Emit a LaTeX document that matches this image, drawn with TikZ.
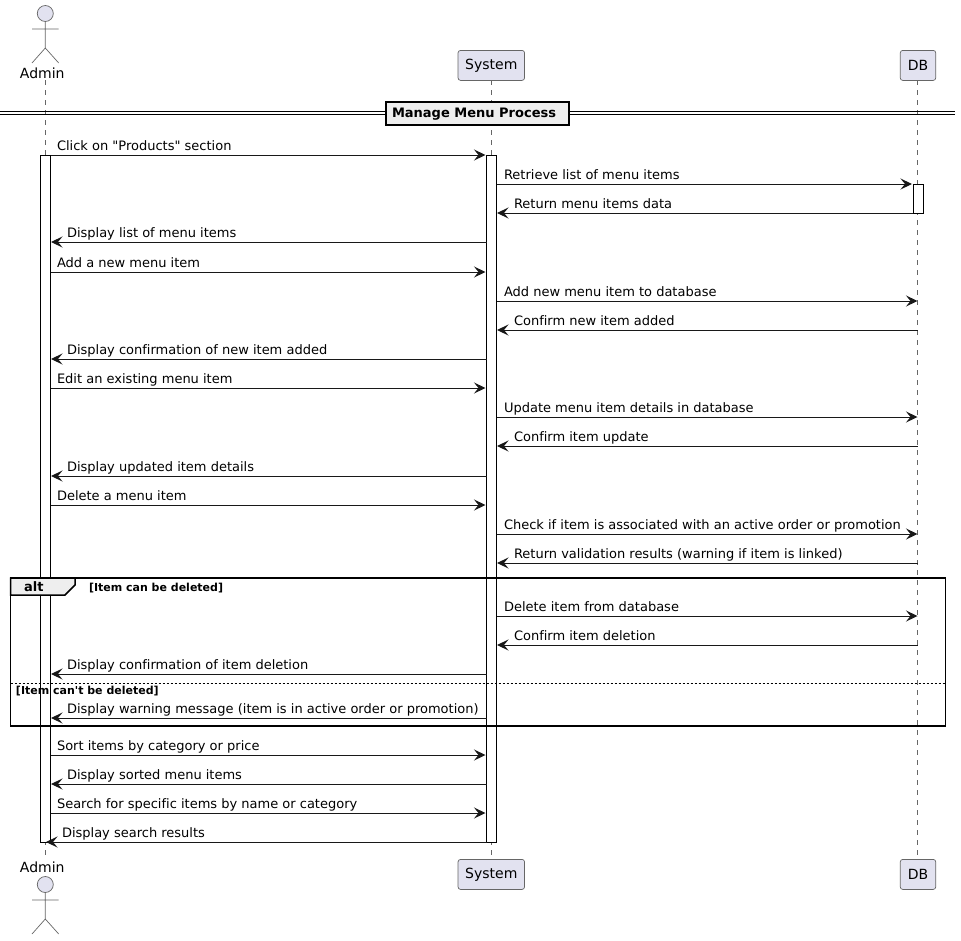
\documentclass[tikz,border=0pt]{standalone}
\usepackage{fontspec}
\usetikzlibrary{arrows.meta}
\newfontfamily\umlfont[Ligatures=NoCommon]{DejaVu Sans}
\definecolor{umlfill}{HTML}{E2E2F0}
\definecolor{umlline}{HTML}{181818}
\definecolor{umlthin}{HTML}{666666}
\definecolor{umlgrp}{HTML}{EEEEEE}
\tikzset{
  msg/.style={draw=umlline,line width=1pt,-{Stealth[length=11.5pt,width=11pt,inset=4.5pt,fill=umlline]}},
  lbl/.style={anchor=base west,inner sep=0pt,outer sep=0pt,font=\umlfont\fontsize{13}{15}\selectfont,text=black},
  lifeline/.style={draw=umlthin,line width=.6pt,dash pattern=on 5pt off 5pt},
  bar/.style={draw=black,fill=white,line width=1pt},
  party/.style={draw=umlthin,fill=umlfill,line width=.7pt,rounded corners=2.5pt,minimum height=30pt,inner sep=0pt,outer sep=0pt,font=\umlfont\fontsize{14}{16}\selectfont,text=black},
  actorline/.style={draw=umlthin,line width=.7pt},
  actorhead/.style={circle,draw=umlthin,fill=umlfill,line width=.7pt,minimum size=16pt,inner sep=0pt,outer sep=0pt},
  actorname/.style={inner sep=0pt,outer sep=0pt,font=\umlfont\fontsize{14}{16}\selectfont,text=black},
  grp/.style={draw=black,line width=1.5pt},
  grplbl/.style={anchor=base west,inner sep=0pt,outer sep=0pt,font=\umlfont\bfseries\fontsize{11}{13}\selectfont,text=black},
  section/.style={draw=black,fill=umlgrp,line width=2pt,inner sep=0pt,outer sep=0pt,minimum width=183pt,minimum height=23pt},
  sectionlbl/.style={anchor=base west,inner sep=0pt,outer sep=0pt,font=\umlfont\bfseries\fontsize{13}{15}\selectfont,text=black},
}
\newcommand{\umlmsg}[6]{% id, from x, to x, y, text x, text
  \coordinate (m#1a) at (#2,#4);
  \coordinate (m#1b) at (#3,#4);
  \draw[msg] (m#1a) -- (m#1b);
  \node[lbl] (m#1l) at (#5,#4-5) {#6};
}
\begin{document}
\begin{tikzpicture}[x=1pt,y=-1pt]
\useasboundingbox (0,0) rectangle (961,940);
% participants
\node[actorhead] (adminHeadT) at (45.3,13.5) {};
\coordinate (adminNeckT) at (45.3,48);
\coordinate (adminArmLT) at (32,29);
\coordinate (adminArmRT) at (58.7,29);
\coordinate (adminLegLT) at (32,63);
\coordinate (adminLegRT) at (58.7,63);
\draw[actorline] (adminHeadT.south) -- (adminNeckT) (adminArmLT) -- (adminArmRT) (adminLegLT) -- (adminNeckT) -- (adminLegRT);
\node[actorname] (adminT) at (42.3,73) {Admin};
\node[party,minimum width=66.5pt] (systemT) at (491.3,65.4) {System};
\node[party,minimum width=35.5pt] (dbT) at (918,65.4) {DB};
\node[party,minimum width=66.5pt] (systemB) at (491.3,874.4) {System};
\node[party,minimum width=35.5pt] (dbB) at (918,874.4) {DB};
\node[actorname] (adminB) at (42.3,867) {Admin};
\node[actorhead] (adminHeadB) at (45.3,884.5) {};
\coordinate (adminNeckB) at (45.3,919);
\coordinate (adminArmLB) at (32,900);
\coordinate (adminArmRB) at (58.7,900);
\coordinate (adminLegLB) at (32,934);
\coordinate (adminLegRB) at (58.7,934);
\draw[actorline] (adminHeadB.south) -- (adminNeckB) (adminArmLB) -- (adminArmRB) (adminLegLB) -- (adminNeckB) -- (adminLegRB);
% lifelines
\coordinate (adminLifeT) at (45.3,80);
\coordinate (adminLifeB) at (45.3,856);
\coordinate (systemLifeT) at (491.5,80.4);
\coordinate (systemLifeB) at (491.5,859);
\coordinate (dbLifeT) at (917.5,80.4);
\coordinate (dbLifeB) at (917.5,859);
\draw[lifeline] (adminLifeT) -- (adminLifeB);
\draw[lifeline] (systemLifeT) -- (systemLifeB);
\draw[lifeline] (dbLifeT) -- (dbLifeB);
% activations
\draw[bar] (40.5,155) rectangle (50.5,842);
\draw[bar] (486.5,155) rectangle (496.5,842);
\draw[bar] (913,184) rectangle (923,213);
% section divider
\coordinate (secLA) at (0,111.5);
\coordinate (secRA) at (955,111.5);
\coordinate (secLB) at (0,114.5);
\coordinate (secRB) at (955,114.5);
\draw[black,line width=1pt] (secLA) -- (secRA) (secLB) -- (secRB);
\node[section] (secBox) at (477.5,113) {};
\node[sectionlbl] (secText) at (392,117.5) {Manage Menu Process};
% alt frame
\draw[grp] (10.5,578) rectangle (945.5,726);
\draw[grp,fill=umlgrp] (10.5,578) -- (75,578) -- (75,585) -- (65,595) -- (10.5,595) -- cycle;
\node[anchor=base west,inner sep=0pt,font=\umlfont\bfseries\fontsize{13}{15}\selectfont] (altTag) at (24,591) {alt};
\node[grplbl] (altGuardA) at (89,591) {[Item can be deleted]};
\coordinate (altDivL) at (10.5,683);
\coordinate (altDivR) at (945.5,683);
\draw[black,line width=1pt,dash pattern=on 2pt off 2pt] (altDivL) -- (altDivR);
\node[grplbl] (altGuardB) at (16,694) {[Item can't be deleted]};
% messages
\umlmsg{a}{50.5}{485.5}{155}{57}{Click on "Products" section}
\umlmsg{b}{496.5}{912}{184}{504}{Retrieve list of menu items}
\umlmsg{c}{913}{497}{213}{514}{Return menu items data}
\umlmsg{d}{486.5}{51}{242}{67}{Display list of menu items}
\umlmsg{e}{50.5}{485.5}{272}{57}{Add a new menu item}
\umlmsg{f}{496.5}{917.5}{301}{504}{Add new menu item to database}
\umlmsg{g}{917.5}{497}{330}{514}{Confirm new item added}
\umlmsg{h}{486.5}{51}{359}{67}{Display confirmation of new item added}
\umlmsg{i}{50.5}{485.5}{388}{57}{Edit an existing menu item}
\umlmsg{j}{496.5}{917.5}{417}{504}{Update menu item details in database}
\umlmsg{k}{917.5}{497}{446}{514}{Confirm item update}
\umlmsg{l}{486.5}{51}{476}{67}{Display updated item details}
\umlmsg{m}{50.5}{485.5}{505}{57}{Delete a menu item}
\umlmsg{n}{496.5}{917.5}{534}{504}{Check if item is associated with an active order or promotion}
\umlmsg{o}{917.5}{497}{563}{514}{Return validation results (warning if item is linked)}
\umlmsg{p}{496.5}{917.5}{616}{504}{Delete item from database}
\umlmsg{q}{917.5}{497}{645}{514}{Confirm item deletion}
\umlmsg{r}{486.5}{51}{674}{67}{Display confirmation of item deletion}
\umlmsg{s}{486.5}{51}{718}{67}{Display warning message (item is in active order or promotion)}
\umlmsg{t}{50.5}{485.5}{755}{57}{Sort items by category or price}
\umlmsg{u}{486.5}{51}{784}{67}{Display sorted menu items}
\umlmsg{v}{50.5}{485.5}{813}{57}{Search for specific items by name or category}
\umlmsg{w}{486.5}{46}{842}{62}{Display search results}
\end{tikzpicture}
\end{document}
